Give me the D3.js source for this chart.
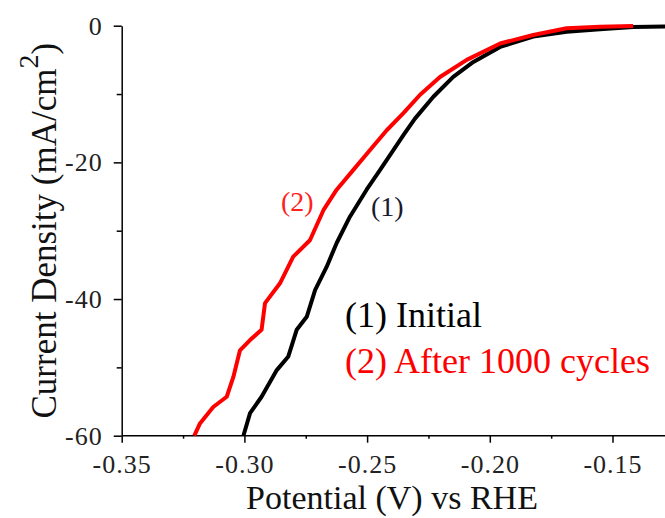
<!DOCTYPE html>
<html>
<head>
<meta charset="utf-8">
<script src="https://cdn.jsdelivr.net/npm/d3@7"></script>
<style>
  body { margin: 0; background: #fff; }
  svg { display: block; }
  text { font-family: "Liberation Serif", "Times New Roman", serif; }
  .axis path, .axis line { stroke: #000; stroke-width: 1.5; }
  .axis text { fill: #222; font-size: 26px; letter-spacing: 1px; }
</style>
</head>
<body>
<script>
let w = 665;
let h = 518;
let serif = "'Liberation Serif', 'Times New Roman', serif";

// tick values
let xTicks = [-0.35, -0.30, -0.25, -0.20, -0.15];
let xMinor = [-0.325, -0.275, -0.225, -0.175, -0.125];
let yTicks = [0, -20, -40, -60];
let yMinor = [-10, -30, -50];

// (1) Initial : [potential V, current density mA/cm2]
let initialV = [-0.3004, -0.2977, -0.2930, -0.2868, -0.2821, -0.2787, -0.2746, -0.2712, -0.2665,
    -0.2624, -0.2570, -0.2502, -0.2447, -0.2393, -0.2350, -0.2305, -0.2230, -0.2149, -0.2067,
    -0.1958, -0.1823, -0.1687, -0.1551, -0.1416, -0.1286, -0.10];
let initialJ = [-60, -56.7, -54.3, -50.4, -48.4, -44.5, -42.6, -38.7, -35.3,
    -31.8, -27.95, -24.0, -21.1, -18.2, -15.9, -13.6, -10.4, -7.5, -5.3,
    -3.1, -1.6, -0.88, -0.53, -0.2, -0.1, -0.05];

// (2) After 1000 cycles
let cycledV = [-0.3204, -0.3181, -0.3127, -0.3072, -0.3045, -0.3018, -0.2977, -0.2930, -0.2916,
    -0.2855, -0.2801, -0.2733, -0.2678, -0.2624, -0.2556, -0.2488, -0.2420, -0.2352, -0.2284,
    -0.2203, -0.2094, -0.1958, -0.1823, -0.1687, -0.1551, -0.1416];
let cycledJ = [-60, -58.2, -55.8, -54.3, -51.4, -47.5, -46.0, -44.5, -40.6,
    -37.7, -33.8, -31.4, -27.0, -24.0, -21.1, -18.2, -15.3, -12.8, -10.1,
    -7.5, -5.0, -2.6, -1.36, -0.38, -0.15, -0.05];

let plotLeft = 121.7, plotTop = 25.7, plotBottom = 435.7;

let xScale = d3.scaleLinear()
    .domain([-0.35, -0.10])
    .range([plotLeft, plotLeft + 5 * 122.7]);

let yScale = d3.scaleLinear()
    .domain([-60, 0])
    .range([plotBottom, plotTop]);

let svg = d3.select("body")
    .append("svg")
    .attr("width", w)
    .attr("height", h);

//Minor ticks first, under the axes
let xMinorAxis = d3.axisBottom(xScale).tickValues(xMinor).tickSize(3).tickFormat("");
let yMinorAxis = d3.axisLeft(yScale).tickValues(yMinor).tickSize(5).tickFormat("");

svg.append("g")
    .attr("class", "axis")
    .attr("transform", "translate(0," + plotBottom + ")")
    .call(xMinorAxis)
    .select(".domain").remove();

svg.append("g")
    .attr("class", "axis")
    .attr("transform", "translate(" + plotLeft + ",0)")
    .call(yMinorAxis)
    .select(".domain").remove();

//Main axes
let xAxis = d3.axisBottom(xScale)
    .tickValues(xTicks)
    .tickSize(7)
    .tickSizeOuter(0)
    .tickPadding(12)
    .tickFormat(d => d3.format(".2f")(d).replace("−", "-"));

let yAxis = d3.axisLeft(yScale)
    .tickValues(yTicks)
    .tickSize(8)
    .tickSizeOuter(0)
    .tickPadding(11)
    .tickFormat(d => d3.format("d")(d).replace("−", "-"));

let gx = svg.append("g")
    .attr("class", "axis")
    .attr("transform", "translate(0," + plotBottom + ")")
    .call(xAxis)
    .attr("font-family", serif)
    .attr("font-size", 26);

//the axis line runs on to the right edge (the chart is cropped there)
gx.select(".domain")
    .attr("d", "M" + plotLeft + ",0H" + w);

svg.append("g")
    .attr("class", "axis")
    .attr("transform", "translate(" + plotLeft + ",0)")
    .call(yAxis)
    .attr("font-family", serif)
    .attr("font-size", 26);

//Curves
let line = d3.line()
    .x(d => xScale(d[0]))
    .y(d => yScale(d[1]));

let initial = initialV.map((v, i) => [v, initialJ[i]]);
let cycled = cycledV.map((v, i) => [v, cycledJ[i]]);

svg.append("path")
    .datum(initial)
    .attr("d", line)
    .attr("fill", "none")
    .attr("stroke", "#000")
    .attr("stroke-width", 4)
    .attr("stroke-linejoin", "round");

svg.append("path")
    .datum(cycled)
    .attr("d", line)
    .attr("fill", "none")
    .attr("stroke", "#ff0000")
    .attr("stroke-width", 4)
    .attr("stroke-linejoin", "round");

//Curve labels
svg.append("text")
    .attr("x", 281)
    .attr("y", 211)
    .attr("font-size", 28)
    .attr("fill", "#ff2020")
    .text("(2)");

svg.append("text")
    .attr("x", 371)
    .attr("y", 216)
    .attr("font-size", 28)
    .attr("fill", "#1a1a2e")
    .text("(1)");

//Legend
svg.append("text")
    .attr("x", 345)
    .attr("y", 327)
    .attr("font-size", 36)
    .attr("fill", "#000")
    .text("(1) Initial");

svg.append("text")
    .attr("x", 345)
    .attr("y", 373)
    .attr("font-size", 36)
    .attr("fill", "#ff0000")
    .text("(2) After 1000 cycles");

//Axis titles
svg.append("text")
    .attr("x", 392)
    .attr("y", 509)
    .attr("text-anchor", "middle")
    .attr("font-size", 34)
    .attr("fill", "#111")
    .text("Potential (V) vs RHE");

let yTitle = svg.append("text")
    .attr("transform", "translate(56," + ((plotTop + plotBottom) / 2) + ") rotate(-90)")
    .attr("text-anchor", "middle")
    .attr("font-size", 35)
    .attr("fill", "#111");
yTitle.append("tspan").text("Current Density (mA/cm");
yTitle.append("tspan").attr("dy", -18).attr("font-size", 28).text("2");
yTitle.append("tspan").attr("dy", 18).text(")");
</script>
</body>
</html>
